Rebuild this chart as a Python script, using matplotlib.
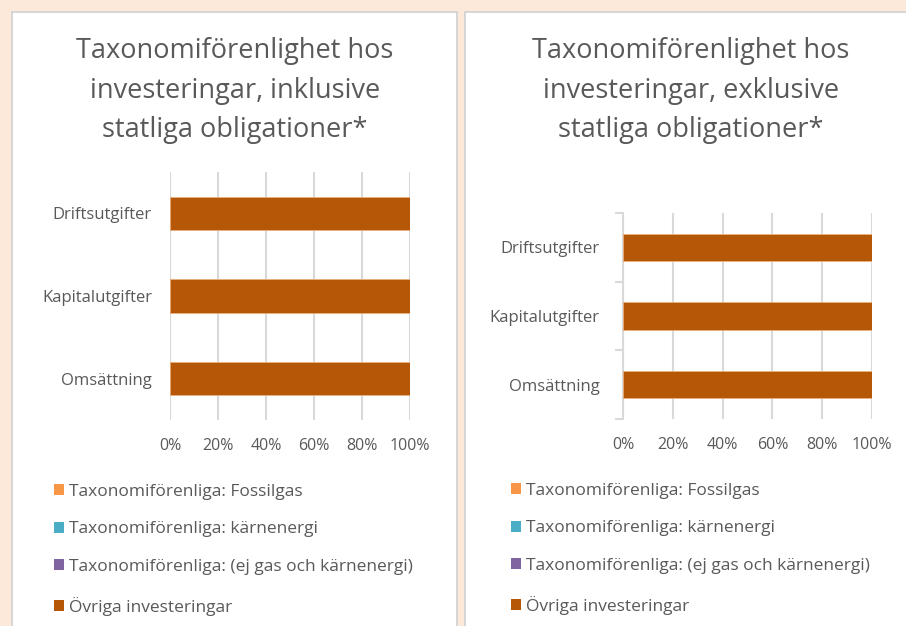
import matplotlib
matplotlib.use("Agg")
import matplotlib.pyplot as plt
from matplotlib.patches import Rectangle
import numpy as np

categories = ["Omsättning", "Kapitalutgifter", "Driftsutgifter"]
series_names = ["Taxonomiförenliga: Fossilgas",
                "Taxonomiförenliga: kärnenergi",
                "Taxonomiförenliga: (ej gas och kärnenergi)",
                "Övriga investeringar"]
series_colors = ["#F79646", "#4BACC6", "#8064A2", "#B65708"]

# values (%) per series, per category (Omsättning, Kapitalutgifter, Driftsutgifter)
incl_fossilgas = [0, 0, 0]
incl_karnenergi = [0, 0, 0]
incl_ejgas = [0, 0, 0]
incl_ovriga = [100, 100, 100]

excl_fossilgas = [0, 0, 0]
excl_karnenergi = [0, 0, 0]
excl_ejgas = [0, 0, 0]
excl_ovriga = [100, 100, 100]

titles = ["Taxonomiförenlighet hos\ninvesteringar, inklusive\nstatliga obligationer*",
          "Taxonomiförenlighet hos\ninvesteringar, exklusive\nstatliga obligationer*"]
xticks = [0, 20, 40, 60, 80, 100]
xticklabels = ["0%", "20%", "40%", "60%", "80%", "100%"]

W, H = 906, 626
fig = plt.figure(figsize=(W / 100, H / 100), dpi=100)
fig.patch.set_facecolor("#FCE9DA")

def fx(px):
    return px / W

def fy(py):
    return 1 - py / H

# panels
for (x0, x1) in [(12, 457), (465, 915)]:
    fig.patches.append(Rectangle((fx(x0), fy(640)), fx(x1 - x0), (640 - 12) / H,
                                 transform=fig.transFigure, facecolor="white",
                                 edgecolor="#D0D0D0", linewidth=1.2, zorder=-10))

TXT = "#595959"
tfont = "Open Sans"
lfont = "Open Sans"

def draw(ax_rect, data, title, title_x, title_y, spine, legend_xy):
    ax = fig.add_axes(ax_rect)
    ax.set_zorder(5)
    y = np.arange(len(categories))
    left = np.zeros(len(categories))
    handles = []
    for name, vals, col in zip(series_names, data, series_colors):
        vals = np.array(vals, dtype=float)
        b = ax.barh(y, vals, left=left, height=0.4, color=col,
                    edgecolor="#E8B080", linewidth=0.6, label=name, zorder=3)
        handles.append(b)
        left = left + vals
    ax.set_xlim(0, 100)
    ax.set_ylim(-0.5, len(categories) - 0.5)
    ax.set_xticks(xticks)
    ax.set_xticklabels(xticklabels, fontsize=11.5, color=TXT, family=lfont)
    ax.set_yticks(y)
    ax.set_yticklabels(categories, fontsize=12, color=TXT, family=lfont)
    ax.grid(axis="x", color="#D9D9D9", linewidth=1.5, zorder=0)
    ax.tick_params(axis="x", length=0, pad=13)
    ax.tick_params(axis="y", length=0, pad=13)
    for s in ["top", "right", "bottom", "left"]:
        ax.spines[s].set_visible(False)
    if spine:
        ax.spines["left"].set_visible(True)
        ax.spines["left"].set_color("#D9D9D9")
        ax.spines["left"].set_linewidth(1.5)
        ax.set_yticks([-0.5, 0.5, 1.5, 2.5], minor=True)
        ax.tick_params(axis="y", which="minor", length=6, color="#D9D9D9", width=1.5)
        ax.tick_params(axis="y", which="major", pad=17)
    ax.set_facecolor("none")
    fig.text(title_x, title_y, title, ha="center", va="top", fontsize=19.5,
             color=TXT, family=tfont, linespacing=1.55)
    leg = fig.legend(handles=handles, labels=series_names, loc="upper left",
                     bbox_to_anchor=legend_xy, frameon=False,
                     labelcolor=TXT, handlelength=0.6, handleheight=0.6,
                     handletextpad=0.3, labelspacing=1.25, borderpad=0,
                     prop={"family": lfont, "size": 12.5})
    for h in leg.legend_handles:
        h.set_edgecolor("none")
    return ax

draw([fx(170), fy(420), fx(240), (420 - 172) / H],
     [incl_fossilgas, incl_karnenergi, incl_ejgas, incl_ovriga],
     titles[0], fx(235), fy(37), False, (fx(45), fy(475)))
draw([fx(623), fy(419), fx(249), (419 - 213) / H],
     [excl_fossilgas, excl_karnenergi, excl_ejgas, excl_ovriga],
     titles[1], fx(691), fy(37), True, (fx(502), fy(474)))

fig.savefig("out.png", dpi=100, facecolor=fig.get_facecolor())
